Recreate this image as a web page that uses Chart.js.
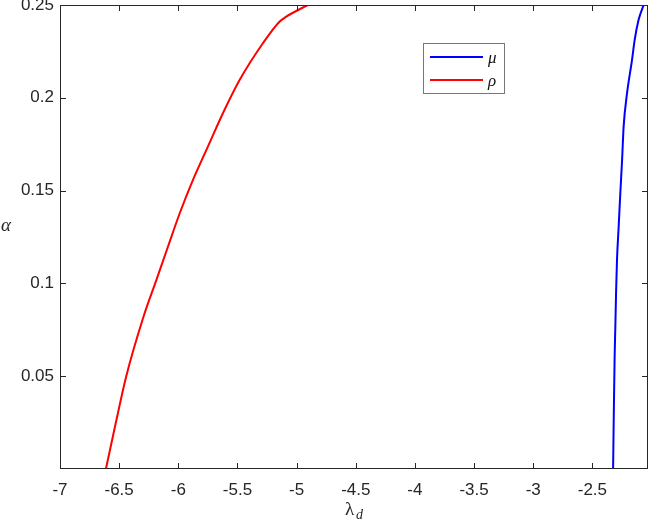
<!DOCTYPE html>
<html>
<head>
<meta charset="utf-8">
<script src="https://cdn.jsdelivr.net/npm/chart.js@4.4.1/dist/chart.umd.min.js"></script>
<style>
  body { margin: 0; background: #fff; }
  #c { display: block; }
</style>
</head>
<body>
<canvas id="c" width="650" height="521"></canvas>
<script>
// curve values (lambda_d, alpha)
var rhoX = [-6.612, -6.536, -6.44, -6.297, -6.185, -6.087, -5.988, -5.876, -5.750, -5.623, -5.482, -5.285, -5.145, -5.088, -4.906];
var rhoY = [0, 0.0226, 0.05, 0.0815, 0.1019, 0.1199, 0.1378, 0.1558, 0.1737, 0.1917, 0.2096, 0.2294, 0.241, 0.2437, 0.25];
var muX = [-2.325, -2.319, -2.312, -2.306, -2.300, -2.292, -2.278, -2.264, -2.249, -2.236, -2.207, -2.165, -2.143, -2.110, -2.067];
var muY = [0, 0.03, 0.0606, 0.0768, 0.0948, 0.1127, 0.1306, 0.1486, 0.1665, 0.1845, 0.2025, 0.2204, 0.2311, 0.2419, 0.25];
var xTicks = [-7, -6.5, -6, -5.5, -5, -4.5, -4, -3.5, -3, -2.5];
var yTicks = [0.05, 0.1, 0.15, 0.2, 0.25];

function pts(xs, ys) {
    return xs.map(function(x, i) { return { x: x, y: ys[i] }; });
}

var axisColor = '#262626';

var frame = {
    id: 'frame',
    afterDraw: function(chart) {
        var c = chart.ctx, a = chart.chartArea;
        var xs = chart.scales.x, ys = chart.scales.y;
        c.save();
        c.strokeStyle = axisColor;
        c.lineWidth = 1;
        c.strokeRect(a.left + 0.5, a.top + 0.5, a.right - a.left - 1, a.bottom - a.top - 1);
        c.beginPath();
        xTicks.forEach(function(v) {
            var px = Math.round(xs.getPixelForValue(v)) + 0.5;
            c.moveTo(px, a.bottom); c.lineTo(px, a.bottom - 6);
            c.moveTo(px, a.top); c.lineTo(px, a.top + 6);
        });
        yTicks.forEach(function(v) {
            var py = Math.round(ys.getPixelForValue(v)) + 0.5;
            c.moveTo(a.left, py); c.lineTo(a.left + 6, py);
            c.moveTo(a.right, py); c.lineTo(a.right - 6, py);
        });
        c.stroke();

        // legend
        c.fillStyle = '#fff';
        c.fillRect(423, 43, 81, 50);
        c.strokeStyle = '#777';
        c.strokeRect(423.5, 43.5, 81, 50);
        var rows = [57, 80];
        chart.data.datasets.forEach(function(ds, i) {
            c.strokeStyle = ds.borderColor;
            c.lineWidth = 2;
            c.beginPath();
            c.moveTo(430, rows[i]); c.lineTo(483, rows[i]);
            c.stroke();
            c.fillStyle = '#111';
            c.font = 'italic 17px "Liberation Serif", "DejaVu Serif", serif';
            c.textBaseline = 'middle';
            c.textAlign = 'left';
            c.fillText(ds.label, 488, rows[i] + 2);
        });

        // axis titles
        c.fillStyle = axisColor;
        c.font = 'italic 19px "Liberation Serif", "DejaVu Serif", serif';
        c.textAlign = 'left';
        c.textBaseline = 'middle';
        c.fillText('\u03b1', 1, 226);
        c.font = '19px "Liberation Serif", "DejaVu Serif", serif';
        c.textBaseline = 'alphabetic';
        c.fillText('\u03bb', 345, 515);
        c.font = 'italic 14px "Liberation Serif", "DejaVu Serif", serif';
        c.fillText('d', 356, 519);
        c.restore();
    }
};

new Chart(document.getElementById('c').getContext('2d'), {
    type: 'scatter',
    data: {
        datasets: [{
            label: '\u03bc',
            data: pts(muX, muY),
            showLine: true,
            borderColor: '#0000ff',
            borderWidth: 2,
            pointRadius: 0,
            cubicInterpolationMode: 'monotone'
        }, {
            label: '\u03c1',
            data: pts(rhoX, rhoY),
            showLine: true,
            borderColor: '#ff0000',
            borderWidth: 2,
            pointRadius: 0,
            cubicInterpolationMode: 'monotone'
        }]
    },
    plugins: [frame],
    options: {
        responsive: false,
        devicePixelRatio: 1,
        animation: false,
        layout: { padding: { left: 0, right: 2, top: 5, bottom: 0 } },
        plugins: { legend: { display: false }, tooltip: { enabled: false } },
        scales: {
            x: {
                type: 'linear',
                min: -7,
                max: -2.03,
                afterBuildTicks: function(s) { s.ticks = xTicks.map(function(v) { return { value: v }; }); },
                afterFit: function(s) { s.height = 52; s.paddingLeft = 0; s.paddingRight = 0; },
                grid: { display: false, drawTicks: false },
                border: { display: false },
                ticks: {
                    padding: 11,
                    color: axisColor,
                    font: { family: '"Liberation Sans", Arial, sans-serif', size: 17 },
                    callback: function(v) { return String(+v.toFixed(2)); }
                }
            },
            y: {
                type: 'linear',
                min: 0,
                max: 0.25,
                afterBuildTicks: function(s) { s.ticks = yTicks.map(function(v) { return { value: v }; }); },
                afterFit: function(s) { s.width = 60; s.paddingTop = 0; s.paddingBottom = 0; },
                grid: { display: false, drawTicks: false },
                border: { display: false },
                ticks: {
                    padding: 6,
                    color: axisColor,
                    font: { family: '"Liberation Sans", Arial, sans-serif', size: 17 },
                    callback: function(v) { return String(+v.toFixed(2)); }
                }
            }
        }
    }
});
</script>
</body>
</html>
